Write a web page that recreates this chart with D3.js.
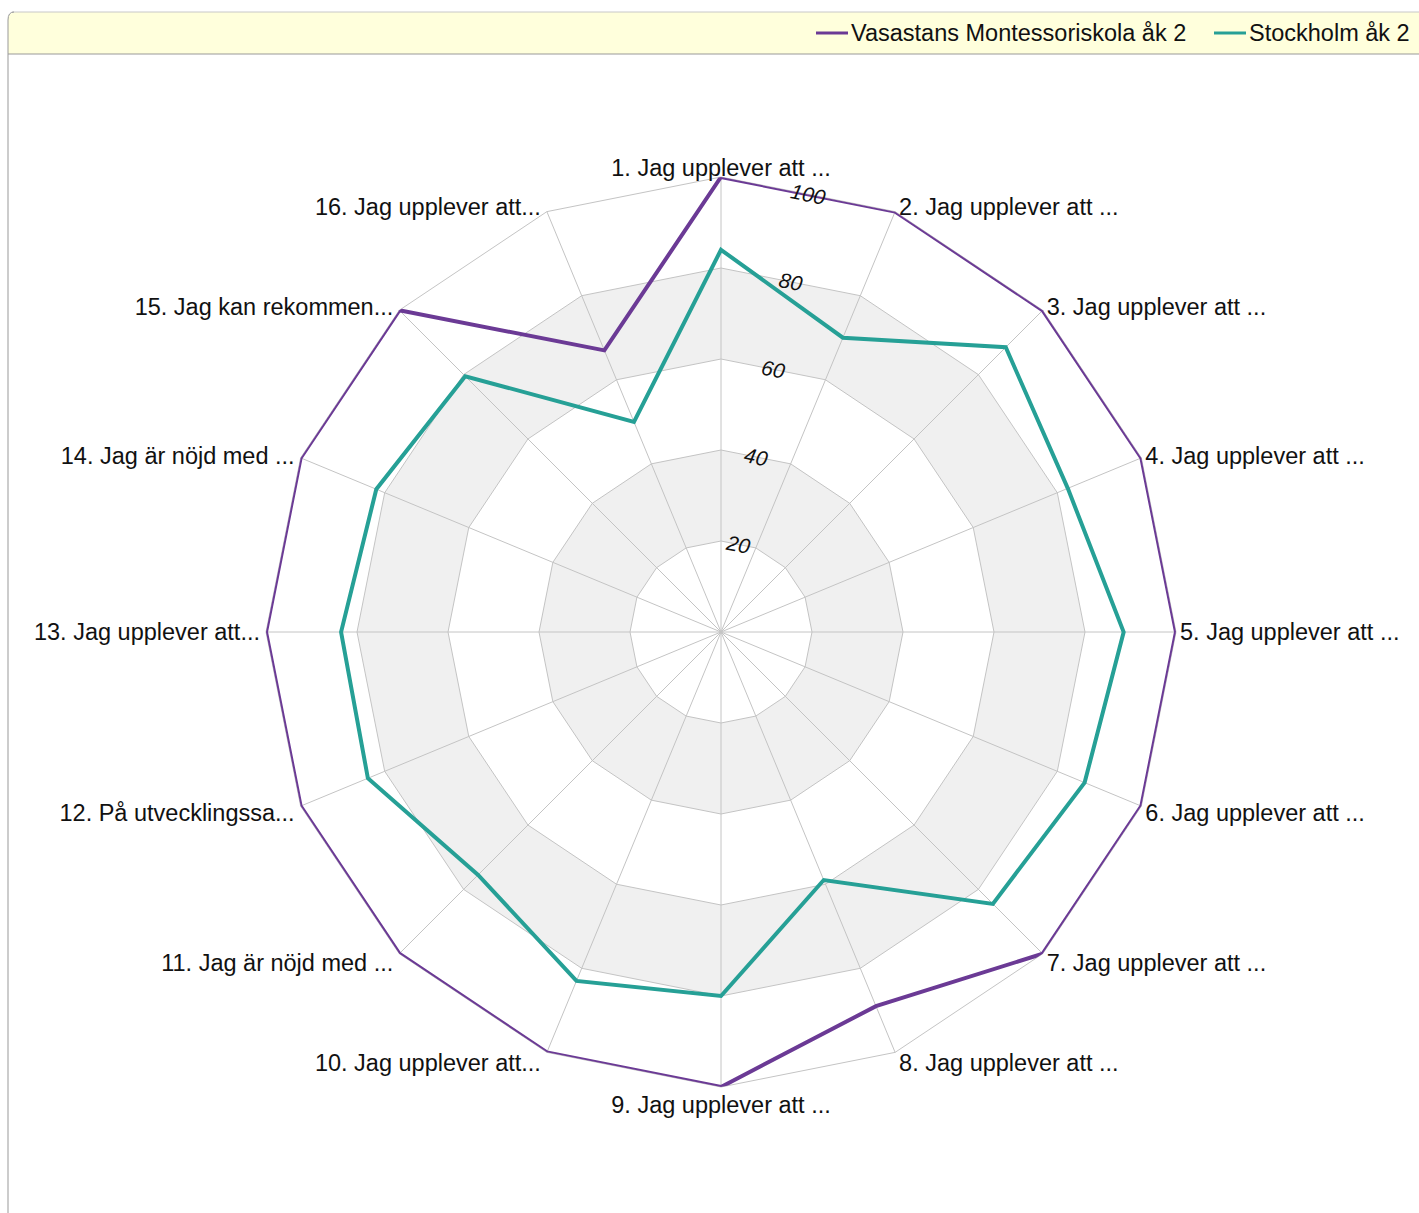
<!DOCTYPE html>
<html>
<head>
<meta charset="utf-8">
<script src="https://cdn.jsdelivr.net/npm/d3@7"></script>
<style>
  body { margin: 0; background: #fff; }
  svg { display: block; font-family: "Liberation Sans", Arial, sans-serif; }
</style>
</head>
<body>
<div id="chart"></div>
<script>
const categories = [
  "1. Jag upplever att ...", "2. Jag upplever att ...", "3. Jag upplever att ...",
  "4. Jag upplever att ...", "5. Jag upplever att ...", "6. Jag upplever att ...",
  "7. Jag upplever att ...", "8. Jag upplever att ...", "9. Jag upplever att ...",
  "10. Jag upplever att...", "11. Jag är nöjd med ...", "12. På utvecklingssa...",
  "13. Jag upplever att...", "14. Jag är nöjd med ...", "15. Jag kan rekommen...",
  "16. Jag upplever att..."
];
const seriesNames = ["Vasastans Montessoriskola åk 2", "Stockholm åk 2"];
const seriesColors = ["#6b3a95", "#26a096"];
const schoolValues = [100, 100, 100, 100, 100, 100, 100, 89, 100, 100, 100, 100, 100, 100, 100, 67];
const cityValues = [84, 70, 88.5, 82.5, 88.5, 86.5, 84.5, 59, 80, 83, 75.5, 84, 83.5, 82, 79.5, 50];
const ringTicks = [20, 40, 60, 80, 100];

const width = 1419, height = 1213;
const cx = 721, cy = 632;
const n = categories.length;
const FONT = "23.5px";

const svg = d3.select("#chart").append("svg")
  .attr("width", width)
  .attr("height", height);

// frame + legend band
svg.append("path")
  .attr("d", `M8,${height} L8,20 Q8,12 16,12 L${width},12 L${width},54 L8,54`)
  .attr("fill", "#ffffdc")
  .attr("stroke", "none");
svg.append("line").attr("x1", 12).attr("x2", width).attr("y1", 12).attr("y2", 12)
  .attr("stroke", "#c8c8c8");
svg.append("line").attr("x1", 8).attr("x2", width).attr("y1", 54).attr("y2", 54)
  .attr("stroke", "#999");
svg.append("path")
  .attr("d", `M8,${height} L8,20 Q8,12 14,12`)
  .attr("fill", "none")
  .attr("stroke", "#999");

let r = d3.scaleLinear().domain([0, 100]).range([0, 455]);
let angle = d3.scaleLinear().domain([0, n]).range([0, 2 * Math.PI]);

const g = svg.append("g").attr("transform", `translate(${cx},${cy})`);

function ringPath(v) {
  return d3.lineRadial()
    .angle((d, i) => angle(i))
    .radius(() => r(v))
    .curve(d3.curveLinearClosed)(categories);
}

// alternating bands
[[20, 40], [60, 80]].forEach(function (b) {
  g.append("path")
    .attr("d", ringPath(b[1]) + ringPath(b[0]))
    .attr("fill", "#f0f0f0")
    .attr("fill-rule", "evenodd");
});

// rings
g.append("g")
  .selectAll("path")
  .data(ringTicks)
  .enter()
  .append("path")
  .attr("d", d => ringPath(d))
  .attr("fill", "none")
  .attr("stroke", "#c4c4c4")
  .attr("stroke-width", 1);

// spokes
g.append("g")
  .selectAll("line")
  .data(categories)
  .enter()
  .append("line")
  .attr("x1", 0).attr("y1", 0)
  .attr("x2", (d, i) => r(100) * Math.sin(angle(i)))
  .attr("y2", (d, i) => -r(100) * Math.cos(angle(i)))
  .attr("stroke", "#c4c4c4")
  .attr("stroke-width", 1);

// clip series at the outer ring
svg.append("defs").append("clipPath").attr("id", "outer")
  .append("path").attr("d", ringPath(100));

let series = g.append("g").attr("clip-path", "url(#outer)");
[schoolValues, cityValues].forEach(function (vals, k) {
  series.append("path")
    .attr("d", d3.lineRadial()
      .angle((d, i) => angle(i))
      .radius(d => r(d))
      .curve(d3.curveLinearClosed)(vals))
    .attr("fill", "none")
    .attr("stroke", seriesColors[k])
    .attr("stroke-width", 4)
    .attr("stroke-linejoin", "miter");
});

// ring labels
const midA = angle(0.5);
g.append("g")
  .selectAll("text")
  .data(ringTicks)
  .enter()
  .append("text")
  .attr("transform", function (d) {
    let rr = r(d) * Math.cos(midA);
    return `translate(${rr * Math.sin(midA)},${-rr * Math.cos(midA)}) rotate(${midA * 180 / Math.PI})`;
  })
  .attr("text-anchor", "middle")
  .attr("dy", "0.35em")
  .attr("font-size", "21px")
  .attr("font-style", "italic")
  .attr("fill", "#111")
  .text(d => d);

// category labels
g.append("g")
  .selectAll("text")
  .data(categories)
  .enter()
  .append("text")
  .attr("x", (d, i) => {
    let s = Math.sin(angle(i));
    return r(100) * s + (Math.abs(s) < 0.01 ? 0 : (s > 0 ? 4 : -6));
  })
  .attr("y", (d, i) => {
    let c = Math.cos(angle(i));
    if (i === 0) return -r(100) - 1;
    if (i === n / 2) return r(100) + 7;
    return -r(100) * c - 5.5 * c + (c < -0.01 ? 5 : 0);
  })
  .attr("dy", (d, i) => i === 0 ? "0" : (i === n / 2 ? "0.8em" : "0.35em"))
  .attr("text-anchor", (d, i) => {
    let s = Math.sin(angle(i));
    return Math.abs(s) < 0.01 ? "middle" : (s > 0 ? "start" : "end");
  })
  .attr("font-size", FONT)
  .attr("fill", "#111")
  .text(d => d);

// legend
const legend = svg.append("g");
const legendX = [816, 1214];
seriesNames.forEach(function (name, k) {
  legend.append("line")
    .attr("x1", legendX[k]).attr("x2", legendX[k] + 32)
    .attr("y1", 33).attr("y2", 33)
    .attr("stroke", seriesColors[k])
    .attr("stroke-width", 3);
  legend.append("text")
    .attr("x", legendX[k] + 35)
    .attr("y", 33)
    .attr("dy", "0.35em")
    .attr("font-size", FONT)
    .attr("fill", "#111")
    .text(name);
});
</script>
</body>
</html>
